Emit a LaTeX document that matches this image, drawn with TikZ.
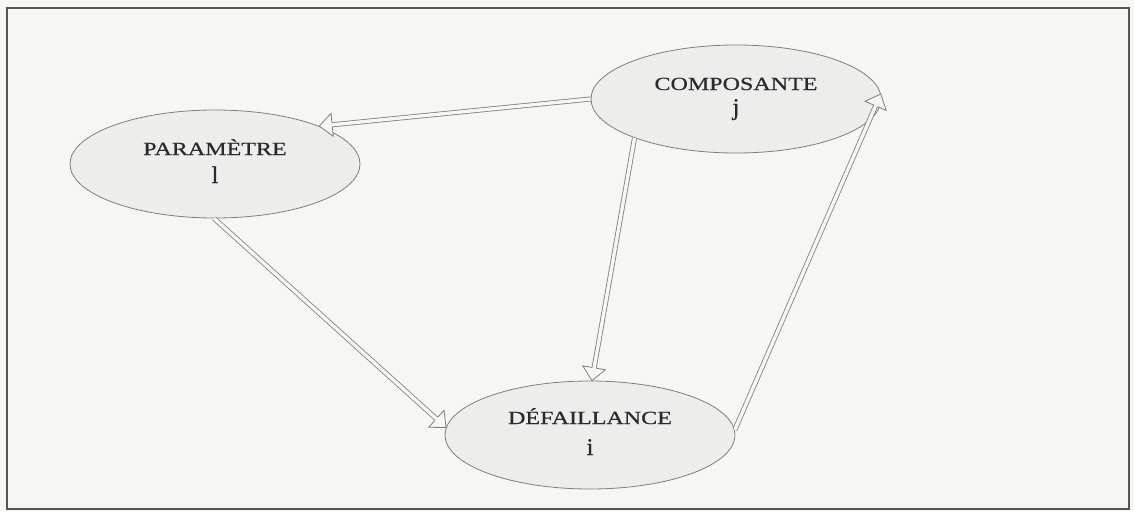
\documentclass[tikz,border=0pt]{standalone}
\usepackage{fontspec}
\setmainfont{Liberation Serif}
\newfontfamily\capsfont[FakeStretch=1.3,FakeBold=0.6]{Liberation Serif}
\newfontfamily\idxfont[FakeBold=0.9]{Liberation Serif}
\usetikzlibrary{shapes.geometric,calc}
\definecolor{paper}{HTML}{F6F6F3}
\definecolor{ellfill}{HTML}{EDEDEC}
\definecolor{inkline}{HTML}{7E7E7E}
\definecolor{inktext}{HTML}{2A2A2A}
\definecolor{framec}{HTML}{555555}
\tikzset{
  entity/.style={ellipse, draw=inkline, line width=0.8pt, fill=ellfill,
    minimum width=290pt, minimum height=108pt, inner sep=0pt},
  title/.style={anchor=base, text=inktext, font=\capsfont\fontsize{18.5}{20}\selectfont},
  index/.style={anchor=base, text=inktext, font=\idxfont\fontsize{24}{28}\selectfont},
  flowshaft/.style={draw=inkline, line width=0.8pt, double=paper, double distance=3.4pt},
  flowhead/.style={draw=inkline, fill=paper, line width=0.8pt, line join=miter}
}
% hollow block arrow: double shaft from #1, open head with its tip at #2
\def\flowheadlen{13pt}
\def\flowheadhalf{11.5pt}
\def\flowshafthalf{2.1pt}
\newcommand\flowarrow[2]{%
  \draw[flowshaft] (#1) -- ($(#2)!\flowheadlen!(#1)$);
  \filldraw[flowhead]
    ($(#2)!\flowheadlen!(#1)!\flowshafthalf!90:(#2)$) --
    ($(#2)!\flowheadlen!(#1)!\flowheadhalf!90:(#2)$) --
    (#2) --
    ($(#2)!\flowheadlen!(#1)!\flowheadhalf!-90:(#2)$) --
    ($(#2)!\flowheadlen!(#1)!\flowshafthalf!-90:(#2)$);
}
\begin{document}
\begin{tikzpicture}[x=1pt,y=-1pt]
  \fill[paper] (0,0) rectangle (1134,511);
  \useasboundingbox (0,0) rectangle (1134,511);
  \draw[framec, line width=1.8pt] (7,8) rectangle (1129,509);

  % the three entities
  \node[entity] (P) at (215,164) {};
  \node[entity] (C) at (736,99) {};
  \node[entity] (D) at (590,435) {};

  \node[title] (Pt) at ($(P.center)+(0,-9)$) {PARAMÈTRE};
  \node[index] (Pi) at ($(P.center)+(0,19)$) {l};
  \node[title] (Ct) at ($(C.center)+(0,-9)$) {COMPOSANTE};
  \node[index] (Ci) at ($(C.center)+(0,16)$) {j};
  \node[title] (Dt) at ($(D.center)+(0,-11)$) {DÉFAILLANCE};
  \node[index] (Di) at ($(D.center)+(0,20)$) {i};

  % relations
  \flowarrow{C.west}{P.20}
  \flowarrow{P.-91}{D.177}
  \flowarrow{C.201}{D.88}
  \flowarrow{D.2}{C.2}
\end{tikzpicture}
\end{document}
